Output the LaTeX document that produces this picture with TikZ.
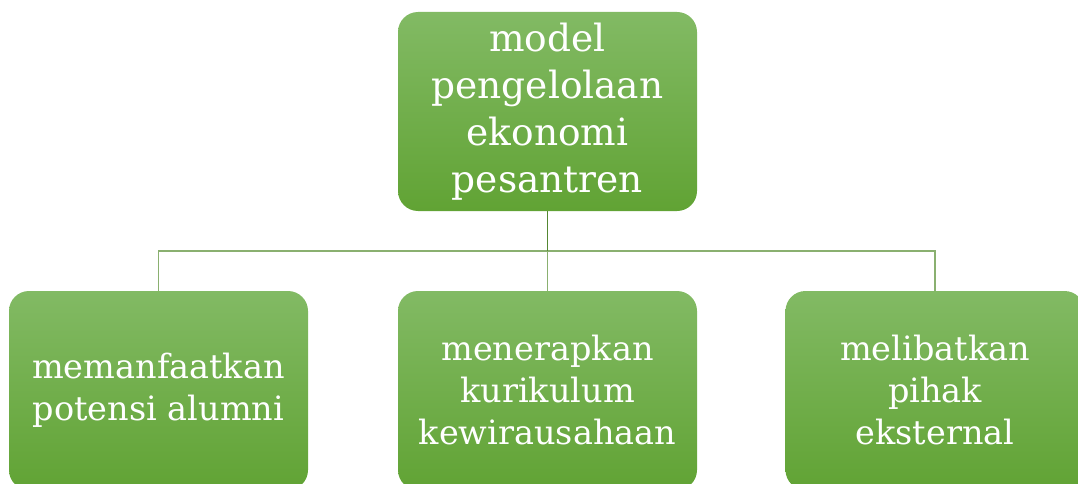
\documentclass[tikz,border=0pt]{standalone}
\usepackage{fontspec}
\setmainfont{DejaVu Serif}
\definecolor{boxtop}{RGB}{130,186,100}
\definecolor{boxbot}{RGB}{97,163,52}
\definecolor{lineDark}{RGB}{84,135,50}
\definecolor{lineLight}{RGB}{138,176,112}
\begin{document}
\begin{tikzpicture}[x=1pt,y=-1pt,
  box/.style={rectangle, rounded corners=20pt, minimum width=299pt, minimum height=199pt,
    top color=boxtop, bottom color=boxbot, draw=none, text=white, align=center, inner sep=0pt},
  bigtxt/.style={font=\fontsize{37.5}{47}\selectfont},
  smalltxt/.style={font=\fontsize{33.5}{42}\selectfont},
  conn/.style={line width=1.5pt, lineLight},
  stem/.style={line width=1.5pt, lineDark}]
\useasboundingbox (0,0) rectangle (1078,484);
\clip (0,0) rectangle (1078,484);
\node[box, bigtxt] (top) at (547.5,111.5) {model\\pengelolaan\\ekonomi\\pesantren};
\node[box, smalltxt] (left) at (158.5,390.5) {memanfaatkan\\potensi alumni};
\node[box, smalltxt] (mid) at (547.5,390.5) {menerapkan\\kurikulum\\kewirausahaan};
\node[box, smalltxt] (right) at (935,390.5) {melibatkan\\pihak\\eksternal};
\coordinate (hub) at (547.5,251);
\draw[conn] (hub) -| (left.north);
\draw[conn] (hub) -| (right.north);
\draw[conn] (hub) -- (mid.north);
\draw[stem] (top.south) -- (hub);
\end{tikzpicture}
\end{document}
